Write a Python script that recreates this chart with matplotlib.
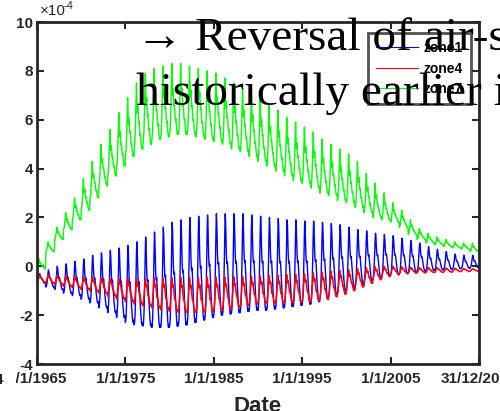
import numpy as np
import matplotlib
matplotlib.use("Agg")
import matplotlib.pyplot as plt
from matplotlib.patches import Rectangle

# ---- data (units of 1e-4), one value per year 1965..2014 ----
years = list(range(1965, 2015))

zone1_peak = [-0.3, -0.15, 0.0, 0.1, 0.2, 0.3, 0.45, 0.55, 0.65, 0.75,
              0.85, 1.0, 1.2, 1.4, 1.6, 1.8, 1.9, 2.0, 2.05, 2.1,
              2.15, 2.15, 2.15, 2.15, 2.1, 2.05, 2.0, 1.95, 1.9, 1.9,
              1.85, 1.85, 1.8, 1.75, 1.7, 1.6, 1.5, 1.45, 1.35, 1.3,
              1.25, 1.15, 1.05, 0.95, 0.8, 0.7, 0.6, 0.5, 0.45, 0.45]
zone1_trough = [-0.7, -0.85, -0.95, -1.1, -1.2, -1.35, -1.5, -1.7, -1.9, -2.1,
                -2.3, -2.4, -2.45, -2.5, -2.5, -2.45, -2.4, -2.3, -2.2, -2.1,
                -2.0, -1.95, -1.9, -1.85, -1.8, -1.8, -1.75, -1.7, -1.65, -1.6,
                -1.55, -1.45, -1.35, -1.2, -1.05, -0.9, -0.75, -0.6, -0.5, -0.4,
                -0.35, -0.3, -0.25, -0.2, -0.18, -0.15, -0.12, -0.1, -0.08, -0.05]

zone4_peak = [-0.35, -0.35, -0.38, -0.4, -0.42, -0.44, -0.45, -0.47, -0.48, -0.5,
              -0.5, -0.5, -0.5, -0.48, -0.47, -0.46, -0.45, -0.45, -0.45, -0.45,
              -0.45, -0.44, -0.43, -0.42, -0.41, -0.4, -0.38, -0.36, -0.34, -0.32,
              -0.3, -0.27, -0.24, -0.2, -0.17, -0.15, -0.1, -0.06, -0.02, 0.0,
              0.0, -0.02, -0.04, -0.05, -0.05, -0.05, -0.07, -0.08, -0.09, -0.1]
zone4_trough = [-0.65, -0.7, -0.75, -0.82, -0.88, -0.95, -1.02, -1.1, -1.22, -1.34,
                -1.45, -1.55, -1.62, -1.7, -1.78, -1.85, -1.88, -1.9, -1.88, -1.85,
                -1.8, -1.74, -1.68, -1.62, -1.56, -1.5, -1.5, -1.5, -1.48, -1.47,
                -1.45, -1.4, -1.33, -1.25, -1.15, -1.0, -0.85, -0.7, -0.55, -0.42,
                -0.32, -0.3, -0.28, -0.27, -0.26, -0.25, -0.24, -0.22, -0.21, -0.2]

zone7_peak = [0.3, 1.0, 1.6, 2.2, 2.8, 3.6, 4.3, 5.0, 5.6, 6.3,
              6.9, 7.5, 7.9, 8.1, 8.2, 8.3, 8.3, 8.2, 8.1, 8.0,
              7.9, 7.7, 7.5, 7.3, 7.1, 6.9, 6.6, 6.4, 6.1, 5.9,
              5.7, 5.5, 5.2, 5.0, 4.8, 4.6, 4.3, 3.8, 3.4, 3.0,
              2.6, 2.3, 1.9, 1.55, 1.35, 1.2, 1.1, 1.0, 0.95, 0.95]
zone7_trough = [-0.1, 0.6, 1.1, 1.5, 1.9, 2.3, 2.8, 3.3, 3.7, 4.1,
                4.5, 4.8, 5.0, 5.2, 5.3, 5.4, 5.4, 5.4, 5.3, 5.2,
                5.1, 5.0, 4.8, 4.7, 4.5, 4.3, 4.1, 3.9, 3.7, 3.5,
                3.4, 3.2, 3.0, 2.9, 2.7, 2.6, 2.4, 2.2, 2.0, 1.9,
                1.8, 1.6, 1.3, 1.1, 0.95, 0.88, 0.8, 0.75, 0.7, 0.6]

# within-year shape (fraction of trough->peak range), 24 samples per year
zone1_shape = [0.00, 0.03, 0.10, 0.22, 0.40, 0.62, 0.85, 1.00, 0.92, 0.75, 0.60, 0.52,
               0.50, 0.52, 0.45, 0.36, 0.27, 0.19, 0.12, 0.06, 0.02, 0.00, 0.03, 0.00]
zone4_shape = [0.00, 0.10, 0.25, 0.45, 0.65, 0.85, 1.00, 0.90, 0.75, 0.70, 0.78, 0.70,
               0.55, 0.45, 0.35, 0.38, 0.30, 0.20, 0.12, 0.06, 0.02, 0.00, 0.05, 0.02]
zone7_shape = [0.00, 0.05, 0.15, 0.30, 0.50, 0.75, 1.00, 0.80, 0.55, 0.60, 0.65, 0.50,
               0.40, 0.42, 0.35, 0.25, 0.20, 0.22, 0.15, 0.08, 0.04, 0.00, 0.03, 0.00]

tick_pos = [1965.0, 1975.0, 1985.0, 1995.0, 2005.0, 2014.997]
tick_labels = ["1/1/1965", "1/1/1975", "1/1/1985", "1/1/1995", "1/1/2005", "31/12/2014"]
yticks = [-4, -2, 0, 2, 4, 6, 8, 10]


def build(peak, trough, shape):
    n = len(shape)
    t, v = [], []
    for i, y in enumerate(years):
        for k in range(n):
            t.append(y + k / n)
            v.append(trough[i] + shape[k] * (peak[i] - trough[i]))
    return np.array(t), np.array(v)


W, H = 500, 411
fig = plt.figure(figsize=(W / 100, H / 100), dpi=100)
ax = fig.add_axes([37 / W, (H - 364) / H, (479 - 37) / W, (364 - 22) / H])

sans = ["Liberation Sans", "DejaVu Sans"]

t1, v1 = build(zone1_peak, zone1_trough, zone1_shape)
t4, v4 = build(zone4_peak, zone4_trough, zone4_shape)
t7, v7 = build(zone7_peak, zone7_trough, zone7_shape)
ax.plot(t1, v1, color=(0, 0, 1), lw=1.0, label="zone1")
ax.plot(t4, v4, color=(1, 0, 0), lw=1.1, label="zone4")
ax.plot(t7, v7, color=(0, 1, 0), lw=1.0, label="zone7")

ax.set_xlim(1965.0, 2014.997)
ax.set_ylim(-4, 10)
ax.set_xticks(tick_pos)
ax.set_xticklabels(tick_labels, fontfamily=sans, fontweight="bold", fontsize=11)
ax.set_yticks(yticks)
ax.set_yticklabels([str(v) for v in yticks], fontfamily=sans, fontweight="bold", fontsize=11)
ax.tick_params(direction="in", top=True, right=True, length=5, width=1.5,
               color="#262626", labelcolor="#262626")
ax.tick_params(axis="x", pad=6)
ax.tick_params(axis="y", pad=3)
for s in ax.spines.values():
    s.set_linewidth(2.0)
    s.set_color("#262626")

ax.set_xlabel("Date", fontfamily=sans, fontweight="bold", fontsize=16, color="#262626", labelpad=7)

leg = ax.legend(loc="upper left", bbox_to_anchor=((368 - 37) / (479 - 37), 1 - (33 - 22) / (364 - 22)),
                prop={"family": sans, "weight": "bold", "size": 10}, frameon=True, fancybox=False,
                handlelength=3.0, labelspacing=0.45, borderpad=0.6, handletextpad=0.4,
                borderaxespad=0)
leg.get_frame().set_edgecolor("#262626")
leg.get_frame().set_linewidth(2.0)
for ln in leg.get_lines():
    ln.set_linewidth(0.8)

# exponent label
fig.text(40 / W, 1 - 15 / H, "×10", fontfamily=sans, fontsize=11, color="#262626", va="baseline")
fig.text(64 / W, 1 - 9 / H, "-4", fontfamily=sans, fontsize=8, color="#262626", va="baseline")

# cut-off label of neighbouring panel
fig.text(4 / W, 1 - 384 / H, "31/12/2014", fontfamily=sans, fontweight="bold", fontsize=11,
         color="#262626", ha="right", va="baseline")
fig.patches.append(Rectangle((5 / W, 1 - 392 / H), 11 / W, 22 / H, transform=fig.transFigure,
                             facecolor="white", edgecolor="none", zorder=10))

# overlaid annotation text
serif = ["Liberation Serif", "DejaVu Serif"]
fig.text(136 / W, 1 - 50 / H, "→ Reversal of air-sea flux", fontfamily=serif, fontsize=34,
         color="black", va="baseline", zorder=20)
fig.text(136 / W, 1 - 105 / H, "historically earlier in zone", fontfamily=serif, fontsize=34,
         color="black", va="baseline", zorder=20)

fig.savefig("out.png", dpi=100)
